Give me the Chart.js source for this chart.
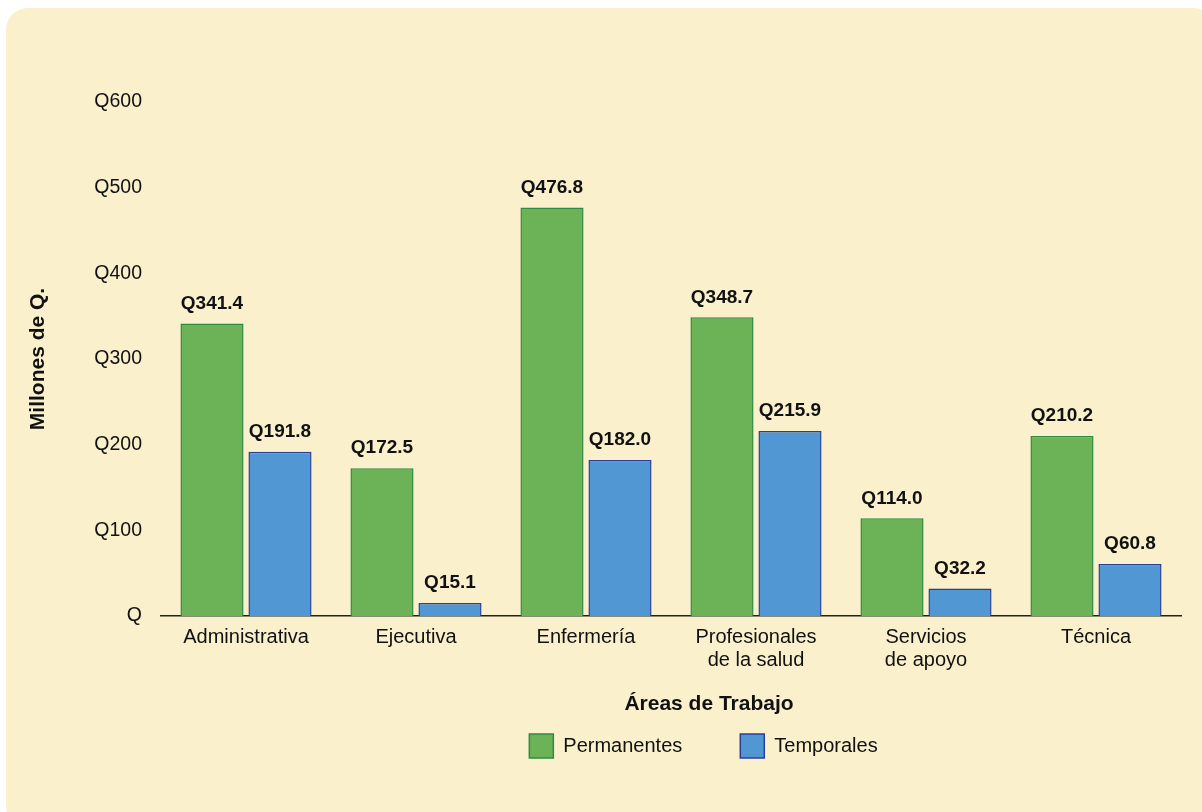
<!DOCTYPE html>
<html lang="es">
<head>
<meta charset="utf-8">
<script src="https://cdn.jsdelivr.net/npm/chart.js@4"></script>
<style>
  html, body { margin: 0; padding: 0; background: #fff; }
  #panel { position: absolute; left: 6px; top: 8px; width: 1210px; height: 820px; background: #faf0cc; border-radius: 22px; }
  #wrap { position: absolute; left: 0; top: 0; width: 1202px; height: 812px; }
</style>
</head>
<body>
<div id="panel"></div>
<div id="wrap"><canvas id="grafico"></canvas></div>
<script>
// Datos del gráfico
const areas = ['Administrativa', 'Ejecutiva', 'Enfermería', ['Profesionales', 'de la salud'], ['Servicios', 'de apoyo'], 'Técnica'];
const permanentes = [341.4, 172.5, 476.8, 348.7, 114.0, 210.2];
const temporales = [191.8, 15.1, 182.0, 215.9, 32.2, 60.8];
const ticksY = [0, 100, 200, 300, 400, 500, 600];

const fuente = 'Liberation Sans, Arial, Helvetica, sans-serif';
const tituloX = 'Áreas de Trabajo';

// Etiquetas encima de cada barra + título del eje X
const etiquetasBarras = {
    id: 'etiquetasBarras',
    afterLayout(chart) {
        // la leyenda va un poco desplazada a la derecha, como en el original
        chart.legend.left += 100;
        chart.legend.right += 100;
    },
    afterDatasetsDraw(chart) {
        const ctx = chart.ctx;
        ctx.save();
        ctx.font = 'bold 19px ' + fuente;
        ctx.fillStyle = '#111';
        ctx.textAlign = 'center';
        ctx.textBaseline = 'middle';
        chart.data.datasets.forEach((ds, i) => {
            chart.getDatasetMeta(i).data.forEach((bar, j) => {
                ctx.fillText('Q' + ds.data[j].toFixed(1), bar.x, bar.y - 20);
            });
        });
        const area = chart.chartArea;
        ctx.font = 'bold 21px ' + fuente;
        ctx.fillText(tituloX, (area.left + area.right) / 2 + 38, area.bottom + 88);
        ctx.restore();
    }
};

new Chart(document.getElementById('grafico'), {
    type: 'bar',
    data: {
        labels: areas,
        datasets: [
            { label: 'Permanentes', data: permanentes, backgroundColor: '#6bb356', borderColor: '#2f8a42', borderWidth: 1.5 },
            { label: 'Temporales', data: temporales, backgroundColor: '#5097d3', borderColor: '#2c3f98', borderWidth: 1.5 }
        ]
    },
    options: {
        responsive: true,
        maintainAspectRatio: false,
        animation: false,
        categoryPercentage: 0.8,
        barPercentage: 0.928,
        layout: { padding: { left: 26, right: 21, top: 102, bottom: 44 } },
        plugins: {
            tooltip: { enabled: false },
            legend: {
                position: 'bottom',
                labels: {
                    color: '#111',
                    font: { family: fuente, size: 20 },
                    boxWidth: 24,
                    boxHeight: 24,
                    padding: 58
                }
            }
        },
        scales: {
            x: {
                afterFit(scale) { scale.height = 60; },
                grid: { display: false, drawTicks: false },
                border: { display: true, color: '#222', width: 1.5 },
                ticks: { color: '#111', font: { family: fuente, size: 20, lineHeight: 1.15 }, padding: 10, maxRotation: 0, autoSkip: false }
            },
            y: {
                min: 0,
                max: 600,
                afterBuildTicks(scale) { scale.ticks = ticksY.map(v => ({ value: v })); },
                afterFit(scale) { scale.width = 135; },
                grid: { display: false, drawTicks: false },
                border: { display: false },
                ticks: { color: '#111', font: { family: fuente, size: 19.5 }, padding: 19, callback: v => v === 0 ? 'Q' : 'Q' + v },
                title: { display: true, text: 'Millones de Q.', color: '#111', font: { family: fuente, size: 21, weight: 'bold' }, padding: 0 }
            }
        }
    },
    plugins: [etiquetasBarras]
});
</script>
</body>
</html>
